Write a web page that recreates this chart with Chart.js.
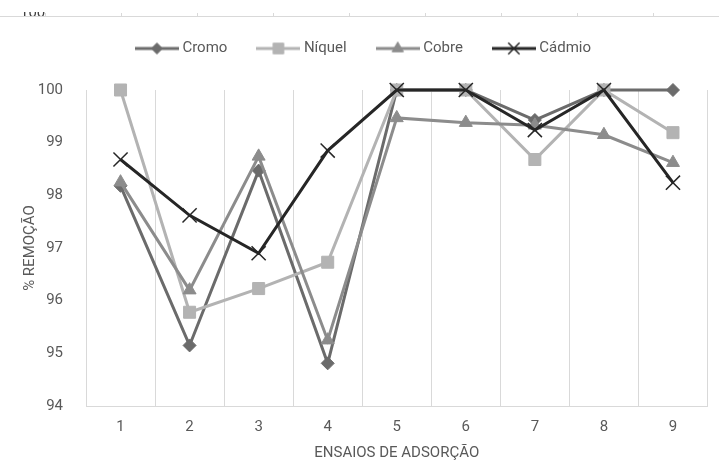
<!DOCTYPE html>
<html>
<head>
<meta charset="utf-8">
<script src="https://cdn.jsdelivr.net/npm/chart.js@4"></script>
<style>
  html, body { margin: 0; padding: 0; background: #fff; }
  #wrap { position: relative; width: 719px; height: 466px; }
  #remnant {
    position: absolute; left: 0; top: 12px; width: 719px; height: 4px;
    overflow: hidden; border-bottom: 1px solid #d9d9d9;
  }
  #remnant span {
    position: absolute; left: 20px; top: -9px; line-height: 15px;
    font: 15px Roboto, sans-serif; color: #404040;
  }
  .tick { position: absolute; top: 1px; width: 1px; height: 3px; background: #d9d9d9; }
</style>
</head>
<body>
<div id="wrap">
  <canvas id="chart" width="719" height="466"></canvas>
  <div id="remnant"><span>100</span></div>
</div>
<script>
// values
const ensaios = ['1', '2', '3', '4', '5', '6', '7', '8', '9'];
const cromo  = [98.18, 95.15, 98.47, 94.81, 100, 100, 99.43, 100, 100];
const niquel = [100, 95.78, 96.23, 96.73, 100, 100, 98.68, 100, 99.19];
const cobre  = [98.25, 96.2, 98.74, 95.25, 99.47, 99.38, 99.33, 99.15, 98.62];
const cadmio = [98.68, 97.62, 96.9, 98.85, 100, 100, 99.24, 100, 98.24];
const yTicks = [94, 95, 96, 97, 98, 99, 100];

const FONT = 'Roboto, sans-serif';
const TEXT = '#595959';
const GRID = '#d9d9d9';

// remnant tick marks of the chart above
[45, 121, 197, 273, 349, 425, 501, 577, 653].forEach(x => {
  const t = document.createElement('div');
  t.className = 'tick';
  t.style.left = x + 'px';
  document.getElementById('remnant').appendChild(t);
});

// small line + marker image for each legend entry
function legendIcon(color, style, radius, markerBorder) {
  const c = document.createElement('canvas');
  c.width = 44; c.height = 18;
  const g = c.getContext('2d');
  g.strokeStyle = color;
  g.fillStyle = color;
  g.lineWidth = 3;
  g.beginPath(); g.moveTo(0, 9); g.lineTo(44, 9); g.stroke();
  g.lineWidth = markerBorder;
  Chart.helpers.drawPoint(g, {
    pointStyle: style, radius: radius, borderWidth: markerBorder, rotation: 0
  }, 22, 9);
  return c;
}

function series(label, data, color, style, radius, order) {
  return {
    label, data, order,
    clip: false,
    borderColor: color,
    backgroundColor: color,
    pointBackgroundColor: color,
    pointBorderColor: color,
    pointStyle: style,
    pointRadius: radius,
    pointHoverRadius: radius,
    pointBorderWidth: style === 'crossRot' ? 1.5 : 1,
    borderWidth: 3,
    tension: 0
  };
}

const datasets = [
  series('Cromo', cromo, '#6b6b6b', 'rectRot', 6.5, 4),
  series('Níquel', niquel, '#b3b3b3', 'rect', 8.5, 3),
  series('Cobre', cobre, '#8c8c8c', 'triangle', 7.5, 2),
  series('Cádmio', cadmio, '#262626', 'crossRot', 10, 1)
];

// extra room between the legend and the plot
const legendGap = {
  id: 'legendGap',
  beforeLayout(chart) {
    const lg = chart.legend;
    if (lg && !lg._gapPatched) {
      const fit = lg.fit;
      lg.fit = function () { fit.call(this); this.height += 24; };
      lg._gapPatched = true;
    }
  }
};

new Chart(document.getElementById('chart'), {
  type: 'line',
  data: { labels: ensaios, datasets },
  plugins: [legendGap],
  options: {
    responsive: false,
    animation: false,
    layout: { padding: { top: 8, left: 17, right: 6, bottom: 0 } },
    plugins: {
      tooltip: { enabled: false },
      legend: {
        position: 'top',
        labels: {
          usePointStyle: true,
          pointStyleWidth: 36,
          boxHeight: 14,
          padding: 33,
          color: TEXT,
          font: { family: FONT, size: 15 },
          sort: (a, b) => a.datasetIndex - b.datasetIndex,
          generateLabels(chart) {
            const items = Chart.defaults.plugins.legend.labels.generateLabels(chart);
            return items.map(it => {
              const d = chart.data.datasets[it.datasetIndex];
              const r = d.pointStyle === 'crossRot' ? 8 : d.pointRadius - 1;
              it.pointStyle = legendIcon(d.borderColor, d.pointStyle, r, d.pointBorderWidth);
              return it;
            });
          }
        }
      }
    },
    scales: {
      x: {
        offset: true,
        grid: { display: true, offset: true, color: GRID, drawTicks: false },
        border: { display: true, color: GRID },
        ticks: { color: TEXT, font: { family: FONT, size: 15 }, padding: 12 },
        title: {
          display: true, text: 'ENSAIOS DE ADSORÇÃO', color: TEXT,
          font: { family: FONT, size: 15 }, padding: { top: 4, bottom: 4 }
        },
        afterFit(scale) { scale.height = 60; }
      },
      y: {
        min: 94, max: 100,
        grid: { display: false },
        border: { display: false },
        afterBuildTicks(scale) { scale.ticks = yTicks.map(v => ({ value: v })); },
        ticks: { color: TEXT, font: { family: FONT, size: 15 }, padding: 15 },
        title: {
          display: true, text: '% REMOÇÃO', color: TEXT,
          font: { family: FONT, size: 15 }, padding: { top: 4, bottom: 4 }
        },
        afterFit(scale) { scale.width = 69; }
      }
    }
  }
});
</script>
</body>
</html>
